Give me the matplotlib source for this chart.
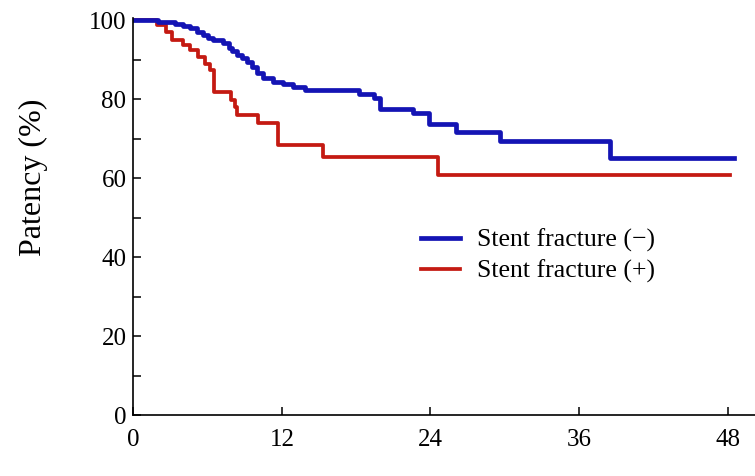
import matplotlib.pyplot as plt
from matplotlib.ticker import MultipleLocator

# months of follow-up and patency (%) at each step of the Kaplan-Meier curves
months_neg = [0, 2.0, 3.4, 4.0, 4.6, 5.1, 5.6, 6.0, 6.4, 7.2, 7.7, 8.0, 8.4, 8.8, 9.2,
              9.6, 10.0, 10.5, 11.3, 12.1, 12.9, 13.9, 18.2, 19.4, 19.9, 22.6, 23.9,
              26.1, 29.6, 38.5, 48.5]
patency_neg = [100, 99.5, 99.0, 98.4, 97.9, 97.0, 96.2, 95.4, 94.9, 94.2, 92.9, 92.1,
               91.1, 90.3, 89.4, 88.1, 86.6, 85.3, 84.3, 83.8, 83.0, 82.3, 81.2, 80.3,
               77.6, 76.4, 73.6, 71.6, 69.4, 65.1, 65.1]

months_pos = [0, 1.9, 2.6, 3.1, 4.0, 4.6, 5.2, 5.8, 6.2, 6.5, 7.9, 8.2, 8.4, 10.1,
              11.7, 15.3, 24.6, 48.2]
patency_pos = [100, 98.7, 97.0, 95.0, 93.7, 92.4, 90.7, 89.0, 87.4, 81.8, 79.8, 78.0,
               76.0, 74.0, 68.4, 65.4, 60.8, 60.8]

labels = ['Stent fracture (\u2212)', 'Stent fracture (+)']
x_ticks = [0, 12, 24, 36, 48]
y_ticks = [0, 20, 40, 60, 80, 100]

plt.rcParams['font.family'] = ['Liberation Serif', 'DejaVu Serif']

fig = plt.figure(figsize=(7.55, 4.76), dpi=100)
ax = fig.add_axes([0.1767, 0.128, 0.823, 0.834])

ax.step(months_pos, patency_pos, where='post', color='#c41a12', linewidth=2.7,
        label=labels[1])
ax.step(months_neg, patency_neg, where='post', color='#1414b4', linewidth=3.4,
        label=labels[0])

ax.set_xlim(0, 50.2)
ax.set_ylim(0, 100.5)
ax.set_xticks(x_ticks)
ax.set_yticks(y_ticks)
ax.yaxis.set_minor_locator(MultipleLocator(10))

ax.spines['top'].set_visible(False)
ax.spines['right'].set_visible(False)
ax.spines['left'].set_linewidth(1.2)
ax.spines['bottom'].set_linewidth(1.2)

ax.tick_params(axis='x', direction='in', length=6, width=1.1, pad=10, labelsize=18)
ax.tick_params(axis='y', which='major', direction='in', length=6, width=1.1, pad=5,
               labelsize=18)
ax.tick_params(axis='y', which='minor', direction='in', length=6, width=1.1)

# y label sits a little above the middle of the axis
fig.text(0.044, 0.628, 'Patency (%)', rotation=90, ha='center', va='center', fontsize=23)

# blue entry first, red second
handles, texts = ax.get_legend_handles_labels()
fig.legend(handles[::-1], texts[::-1], loc='upper left', bbox_to_anchor=(0.558, 0.519),
           frameon=False, fontsize=18.5, handlelength=1.5, handletextpad=0.65,
           labelspacing=0.3, borderpad=0, borderaxespad=0)

fig.savefig('out.png', dpi=100)
